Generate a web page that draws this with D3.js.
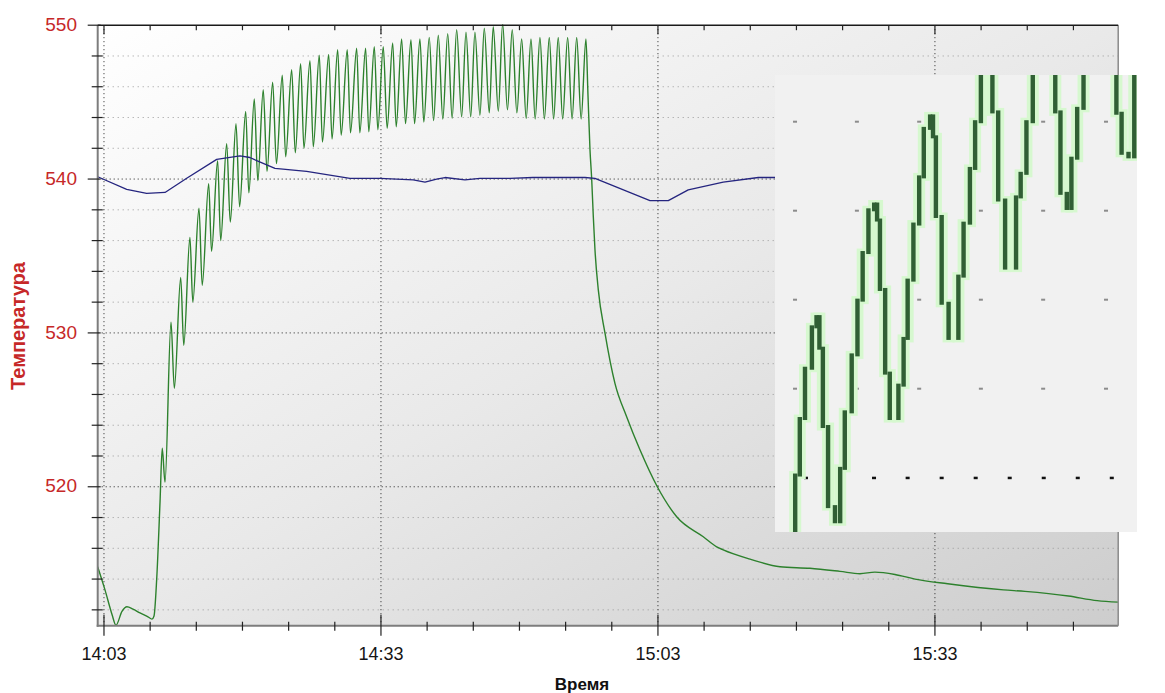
<!DOCTYPE html>
<html><head><meta charset="utf-8">
<script src="https://cdn.jsdelivr.net/npm/d3@7"></script>
<style>
body{margin:0;background:#fff}
svg{display:block}
text{font-family:"Liberation Sans",Arial,sans-serif}
</style>
</head><body>
<svg id="chart" width="1165" height="693"></svg>
<script>
// ---------- DATA (time = minutes after 14:03) ----------
const xTickMinutes = [0, 30, 60, 90];
const xTickLabels  = ["14:03", "14:33", "15:03", "15:33"];
const yTickValues  = [520, 530, 540, 550];
const yTickLabels  = ["520", "530", "540", "550"];

const blueTime = [-0.68, 2.46, 4.62, 6.61, 8.96, 12.21, 14.73, 15.8, 16.54, 18.52, 21.95, 26.64, 29.89, 33.5, 34.77, 36.03, 36.93, 39.1, 40.72, 43.97, 46.46, 52.1, 53.18, 59.14, 61.12, 63.28, 67.07, 70.87, 72.68];
const blueTemp = [540.15, 539.33, 539.07, 539.13, 540.05, 541.28, 541.5, 541.4, 541.2, 540.7, 540.5, 540.05, 540.05, 539.95, 539.8, 540.0, 540.1, 539.95, 540.05, 540.05, 540.1, 540.1, 540.05, 538.6, 538.6, 539.3, 539.8, 540.1, 540.1];

const greenStartTime = [-0.68, 0.11, 0.87, 1.30, 1.95, 2.49, 3.14, 3.90, 4.77, 5.20, 5.42, 5.71, 6.07];
const greenStartTemp = [514.8, 513.3, 511.7, 511.0, 511.9, 512.2, 512.05, 511.8, 511.55, 511.4, 511.6, 514.0, 519.0];

const peakTime = [6.31, 7.26, 8.31, 9.31, 10.29, 11.34, 12.31, 13.29, 14.30, 15.35,
  16.28, 17.25, 18.27, 19.31, 20.33, 21.30, 22.31, 23.32, 24.34, 25.31,
  26.35, 27.37, 28.34, 29.28, 30.25, 31.27, 32.24, 33.25, 34.22, 35.23,
  36.21, 37.23, 38.20, 39.21, 40.18, 41.19, 42.16, 43.18, 44.22, 45.24,
  46.25, 47.22, 48.23, 49.20, 50.22, 51.20, 52.20];
const peakTemp = [522.5, 530.7, 533.6, 536.2, 538.1, 539.7, 541.2, 542.3, 543.6, 544.4,
  545.2, 545.8, 546.3, 546.75, 547.1, 547.5, 547.7, 548.05, 548.1, 548.4,
  548.4, 548.5, 548.5, 548.6, 548.6, 548.85, 549.1, 549.05, 549.1, 549.2,
  549.35, 549.45, 549.7, 549.55, 549.55, 549.8, 549.9, 550.1, 549.7, 549.1,
  549.1, 549.2, 549.2, 549.2, 549.2, 549.2, 549.1];

const troughTime = [6.61, 7.62, 8.64, 9.62, 10.64, 11.65, 12.64, 13.68, 14.69, 15.69,
  16.66, 17.66, 18.68, 19.68, 20.72, 21.66, 22.67, 23.66, 24.70, 25.69,
  26.70, 27.71, 28.68, 29.66, 30.67, 31.65, 32.66, 33.64, 34.64, 35.70,
  36.70, 37.71, 38.74, 39.72, 40.72, 41.73, 42.71, 43.70, 44.72, 45.73,
  46.70, 47.70, 48.70, 49.68, 50.70, 51.68];
const troughTemp = [520.3, 526.4, 529.2, 532.0, 533.1, 535.3, 536.0, 537.2, 538.2, 539.1,
  539.9, 540.5, 541.0, 541.45, 541.7, 542.0, 542.1, 542.4, 542.6, 542.85,
  543.0, 543.0, 543.07, 543.2, 543.3, 543.4, 543.6, 543.6, 543.7, 543.8,
  543.9, 543.95, 544.05, 544.05, 544.15, 544.3, 544.4, 544.5, 544.3, 543.95,
  543.9, 543.9, 543.9, 543.9, 543.9, 543.9];

const decayTime = [52.42, 52.64, 52.82, 53.0, 53.18, 53.54, 54.26, 55.35, 56.61, 58.05,
  59.93, 62.03, 64.91, 66.36, 67.07, 69.97, 73.22, 76.46, 79.72, 81.88,
  83.5, 85.67, 87.84, 91.38, 97.43, 99.75, 104.46, 107.58, 109.85];
const decayTemp = [545.5, 541.9, 540.05, 537.55, 535.4, 532.8, 530.0, 526.7, 524.55, 522.4,
  520.0, 518.05, 516.75, 516.1, 515.9, 515.3, 514.8, 514.7, 514.5, 514.35,
  514.45, 514.3, 514.0, 513.7, 513.3, 513.2, 512.9, 512.6, 512.5];

// magnified inset (pixelated close-up of the green trace)
const insetSample = [0, 0.9, 1.7, 2.6, 3.8, 4.6, 5.1, 5.7, 6.6, 7.8, 8.7, 9.5, 10.7, 11.7, 12.6,
  13.6, 14.6, 15.1, 15.6, 16.5, 17.3, 18.8, 19.7, 20.4, 21.4, 22.4, 23.2, 24.3, 24.8, 25.3,
  26.3, 27.5, 29.2, 30.1, 31.2, 32.1, 33.1, 35.1, 36.1, 37.3, 39.2, 40.0, 41.0, 42.1, 46.0,
  46.9, 48.0, 48.8, 49.8, 50.9, 56.6, 57.5, 58.7, 59.7, 61];
const insetTemp = [522.60, 524.06, 525.33, 526.46, 527.39, 527.62, 526.91, 525.15, 523.35, 523.01,
  524.21, 525.48, 526.76, 527.99, 529.06, 530.02, 530.15, 529.79, 528.23, 526.35,
  525.33, 526.08, 527.13, 528.44, 529.70, 530.76, 531.85, 532.13, 531.66, 529.87,
  527.92, 527.13, 528.53, 529.72, 530.95, 532.00, 533.84, 532.22, 530.24, 528.71,
  530.31, 530.84, 532.00, 533.84, 532.22, 530.39, 530.05, 531.18, 532.30, 533.84,
  532.19, 531.29, 531.21, 533.84, 533.84];
const insetGridTemp = [526, 528, 530, 532];
const insetGraySample = [0.87, 11.6, 22.4, 33.1, 43.9, 54.8];
const insetBaseTemp = 524;
const insetBlackSample = [2.77, 8.67, 14.57, 20.4, 26.3, 32.2, 38.1, 44.0, 49.9, 55.8];

// ---------- LAYOUT ----------
const P = {left: 97.7, right: 1118.2, top: 25.2, bottom: 625.7};
const svg = d3.select("#chart");
const x = d3.scaleLinear().domain([-0.68, 109.85]).range([P.left, P.right]);
const y = d3.scaleLinear().domain([510.97, 550]).range([P.bottom, P.top]);

const defs = svg.append("defs");
const grad = defs.append("linearGradient").attr("id", "bg")
  .attr("x1", 0).attr("y1", 0).attr("x2", 1).attr("y2", 1);
grad.append("stop").attr("offset", 0).attr("stop-color", "#ffffff");
grad.append("stop").attr("offset", 0.5).attr("stop-color", "#e9e9e9");
grad.append("stop").attr("offset", 1).attr("stop-color", "#cdcdcd");
defs.append("clipPath").attr("id", "plotClip").append("rect")
  .attr("x", P.left).attr("y", P.top - 1).attr("width", P.right - P.left).attr("height", P.bottom - P.top + 1);

svg.append("rect").attr("x", P.left).attr("y", P.top).attr("width", P.right - P.left)
  .attr("height", P.bottom - P.top).attr("fill", "url(#bg)");

// grid
const minorY = d3.range(512, 550, 2).filter(v => !yTickValues.includes(v));
svg.append("g").selectAll("line").data(minorY).join("line")
  .attr("x1", P.left).attr("x2", P.right).attr("y1", d => y(d)).attr("y2", d => y(d))
  .attr("stroke", "#9a9a9a").attr("stroke-width", 1).attr("stroke-dasharray", "1,4");
svg.append("g").selectAll("line").data(yTickValues.filter(v => v < 550)).join("line")
  .attr("x1", P.left).attr("x2", P.right).attr("y1", d => y(d)).attr("y2", d => y(d))
  .attr("stroke", "#222").attr("stroke-width", 1).attr("stroke-dasharray", "1,3");
svg.append("g").selectAll("line").data(xTickMinutes).join("line")
  .attr("x1", d => x(d)).attr("x2", d => x(d)).attr("y1", P.top).attr("y2", P.bottom)
  .attr("stroke", "#222").attr("stroke-width", 1).attr("stroke-dasharray", "1,3");

// series
const bluePts = blueTime.map((t, i) => [t, blueTemp[i]]);
const greenPts = [
  ...greenStartTime.map((t, i) => [t, greenStartTemp[i]]),
  ...peakTime.map((t, i) => [t, peakTemp[i]]),
  ...troughTime.map((t, i) => [t, troughTemp[i]]),
  ...decayTime.map((t, i) => [t, decayTemp[i]])
].sort((a, b) => a[0] - b[0]);
const line = d3.line().x(d => x(d[0])).y(d => y(d[1]));
const smooth = d3.line().x(d => x(d[0])).y(d => y(d[1])).curve(d3.curveMonotoneX);
const plotG = svg.append("g").attr("clip-path", "url(#plotClip)");
plotG.append("path").attr("d", smooth(greenPts)).attr("fill", "none")
  .attr("stroke", "#2d812d").attr("stroke-width", 1.4).attr("stroke-linejoin", "round");
plotG.append("path").attr("d", line(bluePts)).attr("fill", "none")
  .attr("stroke", "#25257f").attr("stroke-width", 1.3).attr("stroke-linejoin", "round");

// frame
svg.append("line").attr("x1", P.left).attr("x2", P.left).attr("y1", P.top).attr("y2", P.bottom + 1)
  .attr("stroke", "#7d7d7d").attr("stroke-width", 2);
svg.append("line").attr("x1", P.left - 1).attr("x2", P.right).attr("y1", P.bottom).attr("y2", P.bottom)
  .attr("stroke", "#7d7d7d").attr("stroke-width", 2);
svg.append("line").attr("x1", P.right).attr("x2", P.right).attr("y1", P.top).attr("y2", P.bottom)
  .attr("stroke", "#8a8a8a").attr("stroke-width", 1.5);
svg.append("line").attr("x1", P.left).attr("x2", P.right).attr("y1", P.top).attr("y2", P.top)
  .attr("stroke", "#1a1a1a").attr("stroke-width", 1.5);

// ticks
const minorX = d3.range(0, 110, 5);
const tickG = svg.append("g").attr("stroke", "#222").attr("stroke-width", 1.2);
tickG.selectAll(".bx").data(minorX).join("line").attr("class", "bx")
  .attr("x1", d => x(d)).attr("x2", d => x(d))
  .attr("y1", d => xTickMinutes.includes(d) ? P.bottom - 11 : P.bottom - 4)
  .attr("y2", d => xTickMinutes.includes(d) ? P.bottom + 10 : P.bottom + 5);
tickG.selectAll(".tx").data(minorX).join("line").attr("class", "tx")
  .attr("x1", d => x(d)).attr("x2", d => x(d))
  .attr("y1", P.top).attr("y2", d => xTickMinutes.includes(d) ? P.top + 9 : P.top + 5);
const allY = d3.range(512, 551, 2).concat(yTickValues).filter((v, i, a) => a.indexOf(v) === i);
tickG.selectAll(".ly").data(allY).join("line").attr("class", "ly")
  .attr("x1", d => yTickValues.includes(d) ? P.left - 10 : P.left - 6)
  .attr("x2", d => yTickValues.includes(d) ? P.left + 3 : P.left + 5)
  .attr("y1", d => y(d)).attr("y2", d => y(d));

// labels
svg.append("g").selectAll("text").data(yTickValues).join("text")
  .attr("x", 77).attr("y", d => y(d) - 1).attr("dy", "0.35em").attr("text-anchor", "end")
  .attr("font-size", 19).attr("fill", "#c62828").text((d, i) => yTickLabels[i]);
svg.append("g").selectAll("text").data(xTickMinutes).join("text")
  .attr("x", d => x(d)).attr("y", 660).attr("text-anchor", "middle")
  .attr("font-size", 18).attr("fill", "#151515").text((d, i) => xTickLabels[i]);
svg.append("text").attr("x", 582).attr("y", 690).attr("text-anchor", "middle")
  .attr("font-size", 17).attr("font-weight", "bold").attr("fill", "#111").text("Время");
svg.append("text").attr("transform", "translate(25,326) rotate(-90)").attr("text-anchor", "middle")
  .attr("font-size", 20).attr("font-weight", "bold").attr("fill", "#c62828").text("Температура");

// ---------- INSET ----------
const I = {left: 775, right: 1137, top: 75, bottom: 532};
const ix = d3.scaleLinear().domain([0, 60]).range([790, 1136]);
const iy = d3.scaleLinear().domain([522, 534]).range([566.7, 32.7]);
defs.append("clipPath").attr("id", "insetClip").append("rect")
  .attr("x", I.left).attr("y", I.top).attr("width", I.right - I.left).attr("height", I.bottom - I.top);
const insetG = svg.append("g").attr("clip-path", "url(#insetClip)");
insetG.append("rect").attr("x", I.left).attr("y", I.top).attr("width", I.right - I.left)
  .attr("height", I.bottom - I.top).attr("fill", "#f1f1f1");
insetGridTemp.forEach(t => {
  insetG.append("g").selectAll("rect").data(insetGraySample).join("rect")
    .attr("x", d => ix(d) - 2).attr("y", iy(t) - 1).attr("width", 4).attr("height", 2).attr("fill", "#8c8c8c");
});
insetG.append("g").selectAll("rect").data(insetBlackSample).join("rect")
  .attr("x", d => ix(d) - 2).attr("y", iy(insetBaseTemp) - 1).attr("width", 4).attr("height", 2.5).attr("fill", "#111");
// vertical pixel bars: each column runs from the previous level to its own level
const bars = insetSample.slice(1).map((s, i) => ({s, a: insetTemp[i], b: insetTemp[i + 1]}));
const barTop = d => Math.min(iy(d.a), iy(d.b));
const barH = d => Math.abs(iy(d.a) - iy(d.b));
insetG.append("g").selectAll("rect").data(bars).join("rect")
  .attr("x", d => ix(d.s) - 6).attr("y", d => barTop(d) - 4).attr("width", 12).attr("height", d => barH(d) + 8)
  .attr("fill", "#d6f8cf");
insetG.append("g").selectAll("rect").data(bars).join("rect")
  .attr("x", d => ix(d.s) - 2.2).attr("y", d => barTop(d) - 1.5).attr("width", 4.4).attr("height", d => barH(d) + 3)
  .attr("fill", "#305f34");
</script>
</body></html>
